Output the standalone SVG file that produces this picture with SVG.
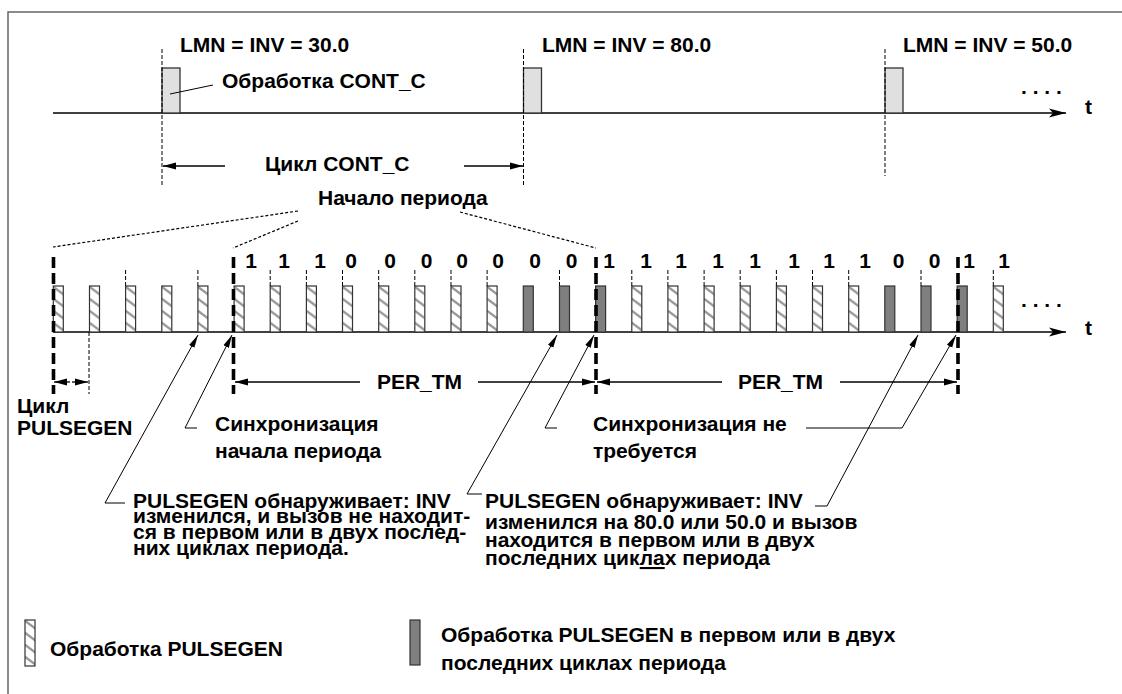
<svg xmlns="http://www.w3.org/2000/svg" width="1122" height="694" viewBox="0 0 1122 694">
<style>
text{font-family:"Liberation Sans",Arial,sans-serif;font-weight:bold;font-size:21px;fill:#000}
.dig{text-anchor:middle}
.ln{stroke:#000;stroke-width:1.3;fill:none}
.thin{stroke:#000;stroke-width:1;fill:none}
.dash{stroke:#000;stroke-width:1;stroke-dasharray:4 2;fill:none}
.dot{stroke:#000;stroke-width:1.2;stroke-dasharray:3 2;fill:none}
.thick{stroke:#000;stroke-width:3.6;stroke-dasharray:11 5;fill:none}
.cbox{fill:#e0e0e0;stroke:#333;stroke-width:1.3}
.dbox{fill:#7f7f7f;stroke:#333;stroke-width:1.2}
</style>
<defs>
<pattern id="hatch" patternUnits="userSpaceOnUse" width="10" height="12">
<rect width="10" height="12" fill="#fff"/>
<path d="M-1,0 L11,9" stroke="#999" stroke-width="2.3"/>
</pattern>
<g id="hb"><rect x="0" y="0" width="10" height="46" fill="url(#hatch)" stroke="#333" stroke-width="1.2"/></g>
<g id="db"><rect x="0" y="0" width="10" height="46" class="dbox"/></g>
<marker id="ax" markerUnits="userSpaceOnUse" markerWidth="18" markerHeight="10" refX="17" refY="5" orient="auto"><path d="M0,0.5 L17,5 L0,9.5 L4,5 z" fill="#000"/></marker>
<marker id="ar" markerUnits="userSpaceOnUse" markerWidth="14" markerHeight="8" refX="13" refY="4" orient="auto"><path d="M0,0.5 L13,4 L0,7.5 z" fill="#000"/></marker>
<marker id="al" markerUnits="userSpaceOnUse" markerWidth="14" markerHeight="8" refX="13" refY="3.5" orient="auto"><path d="M0,0.5 L13,3.5 L0,6.5 z" fill="#000"/></marker>
</defs>

<g id="frame"><path d="M8,694 V12 H1122" fill="none" stroke="#666" stroke-width="1.5"/></g>

<g id="top-axis">
<line x1="53" y1="113" x2="1066" y2="113" class="ln" marker-end="url(#ax)"/>
<text x="1085" y="114">t</text>
<text x="1021" y="94">. . . .</text>
</g>

<g id="cont-c-1"><rect x="162" y="68" width="18" height="45" class="cbox"/><text x="180" y="52">LMN = INV = 30.0</text></g>
<g id="cont-c-2"><rect x="523.5" y="68" width="18" height="45" class="cbox"/><text x="542" y="52">LMN = INV = 80.0</text></g>
<g id="cont-c-3"><rect x="885" y="68" width="18" height="45" class="cbox"/><text x="903" y="52">LMN = INV = 50.0</text></g>
<g id="label-cont-c"><text x="222" y="88">Обработка CONT_C</text></g>
<g id="label-cycle-cont-c"><text x="265" y="171">Цикл CONT_C</text></g>
<g id="label-period-start"><text x="318" y="205">Начало периода</text></g>

<g id="pulse-axis">
<line x1="53" y1="332" x2="1066" y2="332" class="ln" marker-end="url(#ax)"/>
<text x="1085" y="335">t</text>
<text x="1021" y="307">. . . .</text>
</g>

<g id="pulses">
<use href="#hb" x="53.3" y="286"/><use href="#hb" x="89.5" y="286"/><use href="#hb" x="125.6" y="286"/><use href="#hb" x="161.8" y="286"/><use href="#hb" x="197.9" y="286"/>
<use href="#hb" x="234.1" y="286"/><use href="#hb" x="270.2" y="286"/><use href="#hb" x="306.4" y="286"/><use href="#hb" x="342.5" y="286"/><use href="#hb" x="378.7" y="286"/>
<use href="#hb" x="414.8" y="286"/><use href="#hb" x="451" y="286"/><use href="#hb" x="487.1" y="286"/><use href="#db" x="523.3" y="286"/><use href="#db" x="559.5" y="286"/>
<use href="#db" x="595.6" y="286"/><use href="#hb" x="631.8" y="286"/><use href="#hb" x="667.9" y="286"/><use href="#hb" x="704.1" y="286"/><use href="#hb" x="740.2" y="286"/>
<use href="#hb" x="776.4" y="286"/><use href="#hb" x="812.5" y="286"/><use href="#hb" x="848.7" y="286"/><use href="#db" x="884.8" y="286"/><use href="#db" x="921" y="286"/>
<use href="#db" x="957.2" y="286"/><use href="#hb" x="993.3" y="286"/>
</g>

<g id="digits">
<text class="dig" x="251" y="268">1</text><text class="dig" x="284" y="268">1</text><text class="dig" x="320" y="268">1</text><text class="dig" x="351" y="268">0</text><text class="dig" x="390" y="268">0</text>
<text class="dig" x="426.7" y="268">0</text><text class="dig" x="462" y="268">0</text><text class="dig" x="498" y="268">0</text><text class="dig" x="535" y="268">0</text><text class="dig" x="571.7" y="268">0</text>
<text class="dig" x="609" y="268">1</text><text class="dig" x="646" y="268">1</text><text class="dig" x="681" y="268">1</text><text class="dig" x="718" y="268">1</text><text class="dig" x="755" y="268">1</text>
<text class="dig" x="794" y="268">1</text><text class="dig" x="829" y="268">1</text><text class="dig" x="865" y="268">1</text><text class="dig" x="898.7" y="268">0</text><text class="dig" x="934.7" y="268">0</text>
<text class="dig" x="969" y="268">1</text><text class="dig" x="1004" y="268">1</text>
</g>

<g id="labels-bottom">
<text x="17" y="413">Цикл</text><text x="17" y="435">PULSEGEN</text>
<text x="419.5" y="389" class="dig">PER_TM</text>
<text x="780.5" y="389" class="dig">PER_TM</text>
<text x="215" y="431">Синхронизация</text><text x="215" y="458">начала периода</text>
<text x="593" y="431">Синхронизация не</text><text x="593" y="458">требуется</text>
<text x="133" y="508">PULSEGEN обнаруживает: INV</text>
<text x="133" y="523">изменился, и вызов не находит-</text>
<text x="133" y="539">ся в первом или в двух послед-</text>
<text x="133" y="555">них циклах периода.</text>
<text x="485" y="508">PULSEGEN обнаруживает: INV</text>
<text x="485" y="529">изменился на 80.0 или 50.0 и вызов</text>
<text x="485" y="547">находится в первом или в двух</text>
<text x="485" y="565">последних цик<tspan text-decoration="underline">ла</tspan>х периода</text>
</g>

<g id="legend">
<use href="#hb" x="25" y="620"/>
<text x="50" y="656">Обработка PULSEGEN</text>
<rect x="410" y="620" width="10" height="45" class="dbox"/>
<text x="441" y="642">Обработка PULSEGEN в первом или в двух</text>
<text x="441" y="670">последних циклах периода</text>
</g>

<g id="connectors">
<line x1="162" y1="49" x2="162" y2="185" class="dash"/>
<line x1="523.5" y1="49" x2="523.5" y2="185" class="dash"/>
<line x1="885" y1="49" x2="885" y2="176" class="dash"/>
<line x1="170" y1="94" x2="213" y2="85" class="thin"/>
<line x1="225" y1="166" x2="163" y2="166" class="ln" marker-end="url(#ar)"/>
<line x1="464" y1="166" x2="523" y2="166" class="ln" marker-end="url(#ar)"/>
<line x1="298" y1="211" x2="53" y2="247" class="dot"/>
<line x1="298" y1="221" x2="233" y2="248" class="dot"/>
<line x1="460" y1="212" x2="596" y2="248" class="dot"/>
<line x1="53.5" y1="257" x2="53.5" y2="394" class="thick"/>
<line x1="233.5" y1="257" x2="233.5" y2="394" class="thick"/>
<line x1="596" y1="257" x2="596" y2="394" class="thick"/>
<line x1="958" y1="257" x2="958" y2="394" class="thick"/>
<g class="dash">
<line x1="125.6" y1="270" x2="125.6" y2="286"/><line x1="197.9" y1="270" x2="197.9" y2="286"/><line x1="270.2" y1="270" x2="270.2" y2="286"/><line x1="306.4" y1="270" x2="306.4" y2="286"/><line x1="342.5" y1="270" x2="342.5" y2="286"/>
<line x1="378.7" y1="270" x2="378.7" y2="286"/><line x1="414.8" y1="270" x2="414.8" y2="286"/><line x1="451" y1="270" x2="451" y2="286"/><line x1="487.1" y1="270" x2="487.1" y2="286"/><line x1="559.5" y1="270" x2="559.5" y2="286"/>
<line x1="631.8" y1="270" x2="631.8" y2="286"/><line x1="667.9" y1="270" x2="667.9" y2="286"/><line x1="704.1" y1="270" x2="704.1" y2="286"/><line x1="740.2" y1="270" x2="740.2" y2="286"/><line x1="776.4" y1="270" x2="776.4" y2="286"/>
<line x1="812.5" y1="270" x2="812.5" y2="286"/><line x1="848.7" y1="270" x2="848.7" y2="286"/><line x1="921" y1="270" x2="921" y2="286"/><line x1="993.3" y1="270" x2="993.3" y2="286"/>
<line x1="89" y1="332" x2="89" y2="394"/>
</g>
<line x1="70" y1="382" x2="54" y2="382" class="ln" marker-end="url(#ar)"/>
<line x1="72" y1="382" x2="88" y2="382" class="ln" marker-end="url(#ar)"/>
<line x1="360" y1="382" x2="235" y2="382" class="ln" marker-end="url(#ar)"/>
<line x1="478" y1="382" x2="595" y2="382" class="ln" marker-end="url(#ar)"/>
<line x1="722" y1="382" x2="597" y2="382" class="ln" marker-end="url(#ar)"/>
<line x1="840" y1="382" x2="957" y2="382" class="ln" marker-end="url(#ar)"/>
<polyline points="125,503 105,503 198,335" class="thin" marker-end="url(#al)"/>
<polyline points="197,428 185,428 232,335" class="thin" marker-end="url(#al)"/>
<polyline points="482,494 467,494 557,335" class="thin" marker-end="url(#al)"/>
<polyline points="815,506 827,506 918,335" class="thin" marker-end="url(#al)"/>
<polyline points="557,428 545,428 594,335" class="thin" marker-end="url(#al)"/>
<polyline points="806,428 902,428 956,335" class="thin" marker-end="url(#al)"/>
</g>
</svg>
